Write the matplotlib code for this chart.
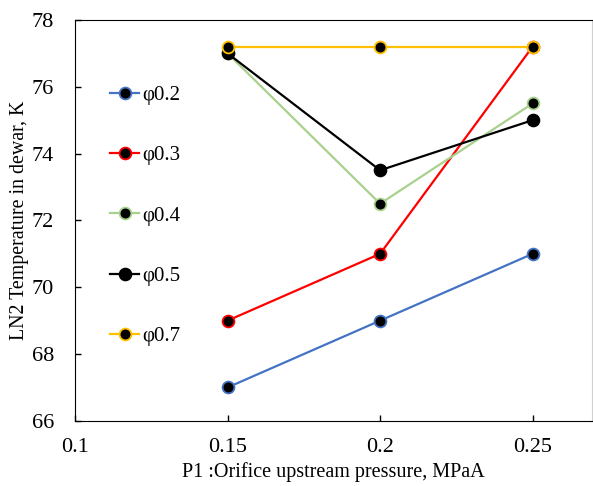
import matplotlib
matplotlib.use("Agg")
import matplotlib.pyplot as plt

pressure = [0.15, 0.2, 0.25]
labels = ["φ0.2", "φ0.3", "φ0.4", "φ0.5", "φ0.7"]
phi02 = [67.0, 69.0, 71.0]
phi03 = [69.0, 71.0, 77.2]
phi04 = [77.0, 72.5, 75.5]
phi05 = [77.0, 73.5, 75.0]
phi07 = [77.2, 77.2, 77.2]
series = [phi02, phi03, phi04, phi05, phi07]
colors = ["#4472C4", "#FF0000", "#A9D18E", "#000000", "#FFC000"]
xticks = [0.1, 0.15, 0.2, 0.25]
xticklabels = ["0.1", "0.15", "0.2", "0.25"]
yticks = [66, 68, 70, 72, 74, 76, 78]

plt.rcParams['font.family'] = ['Liberation Serif', 'DejaVu Serif']

fig = plt.figure(figsize=(5.93, 4.86), dpi=100)
ax = fig.add_axes([0.1265, 0.134, 0.872, 0.825])

for vals, c, lab in zip(series, colors, labels):
    ax.plot(pressure, vals, color=c, lw=1.6, marker='o', markersize=8.5,
            markerfacecolor='black', markeredgecolor=c, markeredgewidth=1.3,
            label=lab)

ax.set_xlim(0.1, 0.2695)
ax.set_ylim(66, 78)
ax.set_xticks(xticks)
ax.set_xticklabels(xticklabels)
ax.set_yticks(yticks)
ax.tick_params(direction='in', labelsize=16, length=4, width=1)
ax.tick_params(axis='x', pad=12)
ax.tick_params(axis='y', pad=15)
for s in ['left', 'bottom', 'top']:
    ax.spines[s].set_color('black')
ax.spines['right'].set_color('#d0d0d0')

ax.set_xlabel("P1 :Orifice upstream pressure, MPaA", fontsize=14.5, labelpad=4)
ax.set_ylabel("LN2 Temperature in dewar, K", fontsize=14.3, labelpad=2)

ax.legend(loc='upper left', bbox_to_anchor=(0.052, 0.857), frameon=False,
          fontsize=15, labelspacing=1.95, handlelength=1.4, handletextpad=0.15,
          borderaxespad=0)

fig.savefig("out.png", dpi=100)
